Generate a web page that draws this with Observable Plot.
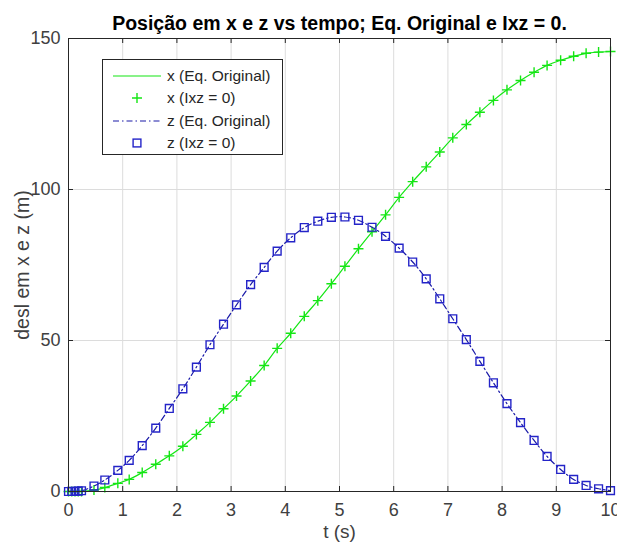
<!DOCTYPE html>
<html><head><meta charset="utf-8">
<script src="https://cdn.jsdelivr.net/npm/d3@7"></script>
<script src="https://cdn.jsdelivr.net/npm/@observablehq/plot@0.6"></script>
<style>
body{margin:0;background:#fff}
#wrap{position:relative;width:617px;height:546px;font-family:"Liberation Sans",Arial,sans-serif}
#legend{position:absolute;left:102px;top:59px;width:181px;height:96px;border:1px solid #262626;background:#fff;box-sizing:border-box}
#legend .row{position:absolute;left:0;height:20px;display:flex;align-items:center;font-size:15.5px;color:#262626;white-space:nowrap}
#legend svg{display:block}
</style>
</head><body><div id="wrap"><div id="chart"></div><div id="legend"></div></div>
<script>
// time samples (s)
const t = [0,0.06,0.12,0.18,0.24,0.47,0.67,0.91,1.12,1.36,1.61,1.86,2.11,2.36,2.61,2.86,3.10,3.36,3.61,3.85,4.10,4.35,4.60,4.85,5.10,5.35,5.60,5.85,6.10,6.35,6.60,6.85,7.09,7.34,7.59,7.84,8.09,8.34,8.59,8.83,9.08,9.32,9.55,9.78,10.0];
// displacement x (m)
const xVals = [0,0,0.01,0.02,0.04,0.5,1.3,2.7,4.0,6.3,9.0,11.8,15.0,18.9,22.9,27.4,31.6,36.6,41.7,47.4,52.4,58.0,63.2,68.8,74.6,80.4,86.0,91.6,97.4,102.6,107.5,112.4,117.1,121.5,125.6,129.5,133.0,136.1,138.8,141.1,142.8,144.1,145.1,145.5,145.7];
// displacement z (m)
const zVals = [0,0.02,0.06,0.13,0.25,1.8,3.8,7.0,10.3,15.2,21.0,27.5,34.0,41.2,48.6,55.4,61.8,68.5,74.2,79.6,84.0,87.4,89.5,90.8,90.9,89.8,87.5,84.5,80.6,76.0,70.4,63.8,57.2,50.3,43.1,36.0,29.1,22.8,16.9,11.6,7.3,4.0,2.0,0.9,0.3];
const xTicks = [0,1,2,3,4,5,6,7,8,9,10];
const yTicks = [0,50,100,150];
const titleText = "Posição em x e z vs tempo; Eq. Original e Ixz = 0.";
const xLabel = "t (s)";
const yLabel = "desl em x e z (m)";
const legendLabels = ["x (Eq. Original)","x (Ixz = 0)","z (Eq. Original)","z (Ixz = 0)"];

const GREEN = "#14e614", BLUE = "#2424c8", BLUE_LINE = "#1a1aa8", AX = "#262626";
const data = t.map((tt,i)=>({t:tt, x:xVals[i], z:zVals[i]}));

const W = 617, H = 546, mL = 68, mR = 7, mT = 38, mB = 55;
const pw = W - mL - mR, ph = H - mT - mB;

const plusSym = {draw(c){const r=5; c.moveTo(-r,0);c.lineTo(r,0);c.moveTo(0,-r);c.lineTo(0,r);}};
const squareSym = {draw(c){const r=3.9; c.moveTo(-r,-r);c.lineTo(r,-r);c.lineTo(r,r);c.lineTo(-r,r);c.closePath();}};

const chart = Plot.plot({
  width: W, height: H,
  marginLeft: mL, marginRight: mR, marginTop: mT, marginBottom: mB,
  style: {fontFamily: '"Liberation Sans", Arial, sans-serif', fontSize: "18px", color: "#404040", background: "#fff"},
  x: {domain: [0,10], ticks: xTicks, tickSize: 0, tickPadding: 12, label: null, tickFormat: d=>String(d)},
  y: {domain: [0,150], ticks: yTicks, tickSize: 0, tickPadding: 8, label: null, tickFormat: d=>String(d)},
  marks: [
    Plot.ruleX(xTicks, {x: d=>d, stroke: "#dcdcdc", strokeWidth: 1}),
    Plot.ruleY(yTicks, {y: d=>d, stroke: "#dcdcdc", strokeWidth: 1}),
    Plot.tickX(xTicks, {x: d=>d, insetTop: ph-5, stroke: AX}),
    Plot.tickX(xTicks, {x: d=>d, insetBottom: ph-5, stroke: AX}),
    Plot.tickY(yTicks, {y: d=>d, insetRight: pw-5, stroke: AX}),
    Plot.tickY(yTicks, {y: d=>d, insetLeft: pw-5, stroke: AX}),
    Plot.line(data, {x: "t", y: "x", stroke: GREEN, strokeWidth: 1.2, curve: "catmull-rom"}),
    Plot.dot(data, {x: "t", y: "x", symbol: plusSym, stroke: GREEN, strokeWidth: 1.4, r: 5}),
    Plot.line(data, {x: "t", y: "z", stroke: BLUE_LINE, strokeWidth: 1.2, strokeDasharray: "6,3,1.5,3", curve: "catmull-rom"}),
    Plot.dot(data, {x: "t", y: "z", symbol: squareSym, stroke: BLUE, strokeWidth: 1.4, fill: "none", r: 4}),
    Plot.frame({stroke: AX, strokeWidth: 1}),
    Plot.text([titleText], {frameAnchor: "top", dy: -22, fontWeight: "bold", fontSize: 19.5, fill: "#000"}),
    Plot.text([xLabel], {frameAnchor: "bottom", dy: 46, fontSize: 19, fill: "#404040"}),
    Plot.text([yLabel], {frameAnchor: "left", textAnchor: "middle", dx: -46, rotate: -90, fontSize: 19.5, fill: "#404040"})
  ]
});
document.getElementById("chart").appendChild(chart);

// legend
const lg = document.getElementById("legend");
const samples = [
  `<line x1="0" y1="10" x2="48" y2="10" stroke="${GREEN}" stroke-width="1.2"/>`,
  `<path d="M19,10h10M24,5v10" stroke="${GREEN}" stroke-width="1.4"/>`,
  `<line x1="0" y1="10" x2="48" y2="10" stroke="${BLUE_LINE}" stroke-width="1.2" stroke-dasharray="6,3,1.5,3"/>`,
  `<rect x="20.1" y="6.1" width="7.8" height="7.8" fill="none" stroke="${BLUE}" stroke-width="1.4"/>`
];
legendLabels.forEach((lab,i)=>{
  const row = document.createElement("div");
  row.className = "row";
  row.style.top = (6 + i*22.3) + "px";
  row.innerHTML = `<svg width="54" height="20" style="margin-left:10px"><g>${samples[i]}</g></svg><span>${lab}</span>`;
  lg.appendChild(row);
});
</script></body></html>
